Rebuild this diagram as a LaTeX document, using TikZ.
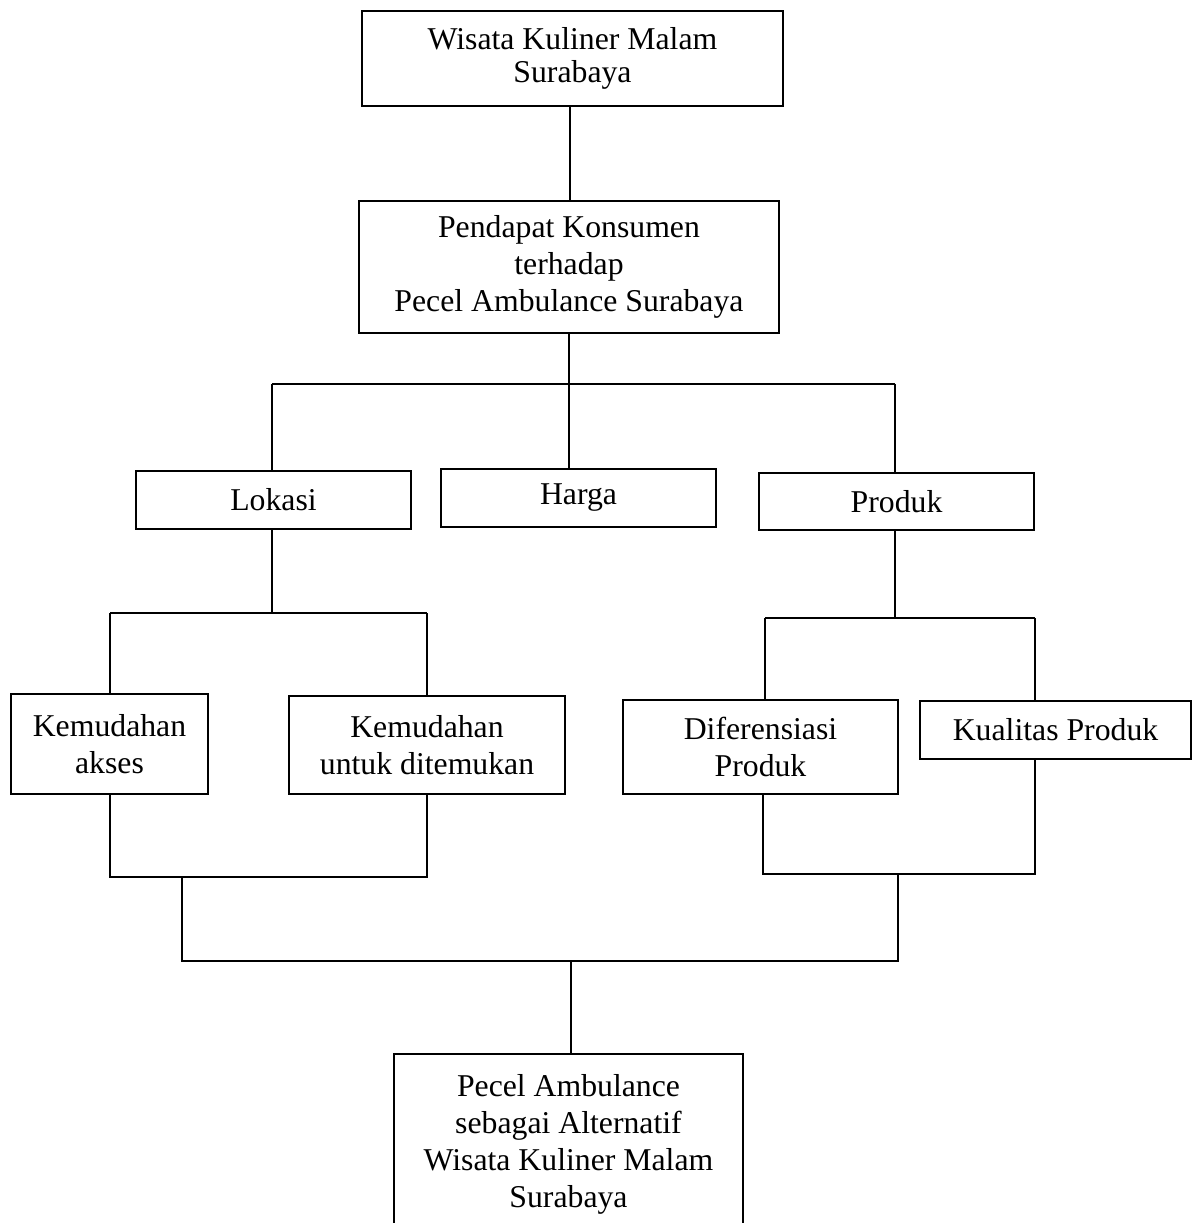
\documentclass[tikz,border=0pt]{standalone}
\usepackage{fontspec}
\setmainfont{Liberation Serif}
\def\pu{0.378pt}
\tikzset{
  box/.style={draw, line width=0.8pt, inner sep=0pt, align=center, font=\fontsize{12}{14}\selectfont},
  conn/.style={line width=0.8pt}
}
\begin{document}
\begin{tikzpicture}[x=0.378pt, y=-0.378pt]
\useasboundingbox (0,0) rectangle (1192,1223);
\clip (0,0) rectangle (1192,1223);
\fill[white] (0,0) rectangle (1192,1223);

% boxes
\node[box, minimum width={421*\pu}, minimum height={95*\pu}, font=\fontsize{12}{12.6}\selectfont] (top) at (572.5,58.5) {Wisata Kuliner Malam\\Surabaya};
\node[box, minimum width={420*\pu}, minimum height={132*\pu}, font=\fontsize{12}{13.9}\selectfont] (pend) at (569,267) {Pendapat Konsumen\\terhadap\\Pecel Ambulance Surabaya};
\node[box, minimum width={275*\pu}, minimum height={58*\pu}] (lokasi) at (273.5,500) {Lokasi};
\node[box, minimum width={275*\pu}, minimum height={58*\pu}] (harga) at (578.5,498) {Harga};
\node[box, minimum width={275*\pu}, minimum height={57*\pu}] (produk) at (896.5,501.5) {Produk};
\node[box, minimum width={197*\pu}, minimum height={100*\pu}] (akses) at (109.5,744) {Kemudahan\\akses};
\node[box, minimum width={276*\pu}, minimum height={98*\pu}] (temukan) at (427,745) {Kemudahan\\untuk ditemukan};
\node[box, minimum width={275*\pu}, minimum height={94*\pu}] (dif) at (760.5,747) {Diferensiasi\\Produk};
\node[box, minimum width={271*\pu}, minimum height={58*\pu}] (kual) at (1055.5,730) {Kualitas Produk};
\node[box, minimum width={349*\pu}, minimum height={180*\pu}] (hasil) at (568.5,1144) {Pecel Ambulance\\sebagai Alternatif\\Wisata Kuliner Malam\\Surabaya};

% junction coordinates
\coordinate (t0) at (570,0);
\coordinate (j1) at (569,384);
\coordinate (jL) at (272,384);
\coordinate (jR) at (895,384);
\coordinate (l1) at (272,613);
\coordinate (lL) at (110,613);
\coordinate (lR) at (427,613);
\coordinate (p1) at (895,618);
\coordinate (pL) at (765,618);
\coordinate (pR) at (1035,618);
\coordinate (bL1) at (110,877);
\coordinate (bL2) at (427,877);
\coordinate (bLm) at (182,877);
\coordinate (bR1) at (763,874);
\coordinate (bR2) at (1035,874);
\coordinate (bRm) at (898,874);
\coordinate (m1) at (182,961);
\coordinate (m2) at (898,961);
\coordinate (m3) at (571,961);

% connectors
\draw[conn] (t0 |- top.south) -- (t0 |- pend.north);
\draw[conn] (pend.south) -- (j1);
\draw[conn] (jL) -- (jR);
\draw[conn] (jL) -- (jL |- lokasi.north);
\draw[conn] (j1) -- (j1 |- harga.north);
\draw[conn] (jR) -- (jR |- produk.north);
\draw[conn] (l1 |- lokasi.south) -- (l1);
\draw[conn] (lL) -- (lR);
\draw[conn] (lL) -- (lL |- akses.north);
\draw[conn] (lR) -- (lR |- temukan.north);
\draw[conn] (p1 |- produk.south) -- (p1);
\draw[conn] (pL) -- (pR);
\draw[conn] (pL) -- (pL |- dif.north);
\draw[conn] (pR) -- (pR |- kual.north);
\draw[conn] (bL1 |- akses.south) -- (bL1) -- (bL2) -- (bL2 |- temukan.south);
\draw[conn] (bR1 |- dif.south) -- (bR1) -- (bR2) -- (bR2 |- kual.south);
\draw[conn] (bLm) -- (m1) -- (m2) -- (bRm);
\draw[conn] (m3) -- (m3 |- hasil.north);
\end{tikzpicture}
\end{document}
